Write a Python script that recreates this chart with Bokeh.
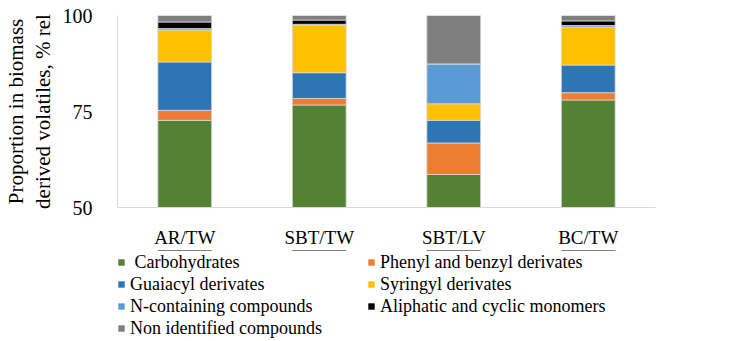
from bokeh.plotting import figure
from bokeh.layouts import column
from bokeh.models import Legend, LegendItem, FixedTicker, Range1d, ColumnDataSource, LinearAxis
from bokeh.embed import file_html
from bokeh.resources import INLINE

# Composition of biomass-derived volatiles (% rel) per sample
samples = ["AR/TW", "SBT/TW", "SBT/LV", "BC/TW"]
carbohydrates = [72.7, 76.7, 58.6, 78.0]
phenyl_benzyl = [2.6, 1.7, 8.2, 1.9]
guaiacyl = [12.6, 6.7, 5.9, 7.2]
syringyl = [8.3, 12.3, 4.3, 9.9]
n_containing = [0.4, 0.3, 10.4, 0.4]
aliphatic_cyclic = [1.7, 1.1, 0.0, 1.2]
non_identified = [1.7, 1.2, 12.6, 1.4]

series_keys = ["carb", "phen", "guai", "syri", "ncon", "alip", "noni"]
series_labels = ["\u00a0Carbohydrates", "Phenyl and benzyl derivates", "Guaiacyl derivates",
                 "Syringyl derivates", "N-containing compounds", "Aliphatic and cyclic monomers",
                 "Non identified compounds"]
colors = ["#548235", "#ED7D31", "#2E75B6", "#FFC000", "#5B9BD5", "#000000", "#7F7F7F"]
y_ticks = [50, 75, 100]

source = ColumnDataSource(dict(samples=samples, carb=carbohydrates, phen=phenyl_benzyl,
                               guai=guaiacyl, syri=syringyl, ncon=n_containing,
                               alip=aliphatic_cyclic, noni=non_identified))

FONT = "Liberation Serif"
FONT_LABEL = '"Liberation Serif", serif'

# main stacked bar chart
p = figure(x_range=samples, y_range=Range1d(50, 100), width=734, height=250,
           output_backend="svg", toolbar_location=None,
           min_border_left=107, min_border_right=79, min_border_top=15, min_border_bottom=36)
p.outline_line_color = None
p.grid.grid_line_color = None
p.x_range.range_padding = 0.0

p.vbar_stack(series_keys, x="samples", width=0.4, color=colors,
             line_color="#d9d9d9", line_width=0.8, source=source)

p.yaxis.ticker = FixedTicker(ticks=y_ticks)
p.yaxis.axis_line_color = "#d9d9d9"
p.yaxis.major_tick_line_color = None
p.yaxis.minor_tick_line_color = None
p.yaxis.major_label_text_font = FONT
p.yaxis.major_label_text_font_size = "20px"
p.yaxis.major_label_text_color = "#000000"
p.yaxis.major_label_standoff = 19
p.yaxis.axis_label = "derived volatiles, % rel"
p.yaxis.axis_label_text_font = FONT_LABEL
p.yaxis.axis_label_text_font_size = "21px"
p.yaxis.axis_label_text_font_style = "normal"
p.yaxis.axis_label_text_color = "#000000"
p.yaxis.axis_label_standoff = 5

# first line of the y title on its own bare axis, further out
title_axis = LinearAxis(ticker=FixedTicker(ticks=[]), axis_line_color=None,
                        major_tick_line_color=None, minor_tick_line_color=None,
                        major_label_text_font_size="0px", major_label_standoff=0,
                        axis_label="Proportion in biomass", axis_label_standoff=0,
                        axis_label_text_font=FONT_LABEL, axis_label_text_font_size="21px",
                        axis_label_text_font_style="normal", axis_label_text_color="#000000")
p.add_layout(title_axis, "left")

p.xaxis.axis_line_color = "#d9d9d9"
p.xaxis.major_tick_line_color = None
p.xaxis.minor_tick_line_color = None
p.xaxis.major_label_text_font = FONT
p.xaxis.major_label_text_font_size = "19px"
p.xaxis.major_label_text_color = "#000000"
p.xaxis.major_label_standoff = 13

# legend strip underneath: same series, drawn out of view, only the legend shows
q = figure(x_range=samples, y_range=Range1d(-10, -5), width=734, height=91,
           output_backend="svg", toolbar_location=None,
           x_axis_location=None, y_axis_location=None,
           min_border_left=0, min_border_right=0, min_border_top=0, min_border_bottom=0)
q.grid.grid_line_color = None
q.outline_line_color = None
legend_renderers = q.vbar_stack(series_keys, x="samples", width=0.4, color=colors,
                                line_color=None, source=source)

order = [0, 2, 4, 6, 1, 3, 5]
items = [LegendItem(label=series_labels[i], renderers=[legend_renderers[i]]) for i in order]
legend = Legend(items=items, location=(0, 2), orientation="vertical", ncols=2,
                label_text_font=FONT_LABEL, label_text_font_size="18px",
                label_text_color="#000000",
                glyph_width=8, glyph_height=8, label_standoff=5, label_height=22,
                label_width=237, spacing=0, padding=0, margin=0,
                border_line_color=None, background_fill_alpha=0)
q.add_layout(legend, "center")

layout = column(p, q, spacing=0)
open("out.html", "w").write(file_html(layout, INLINE))
